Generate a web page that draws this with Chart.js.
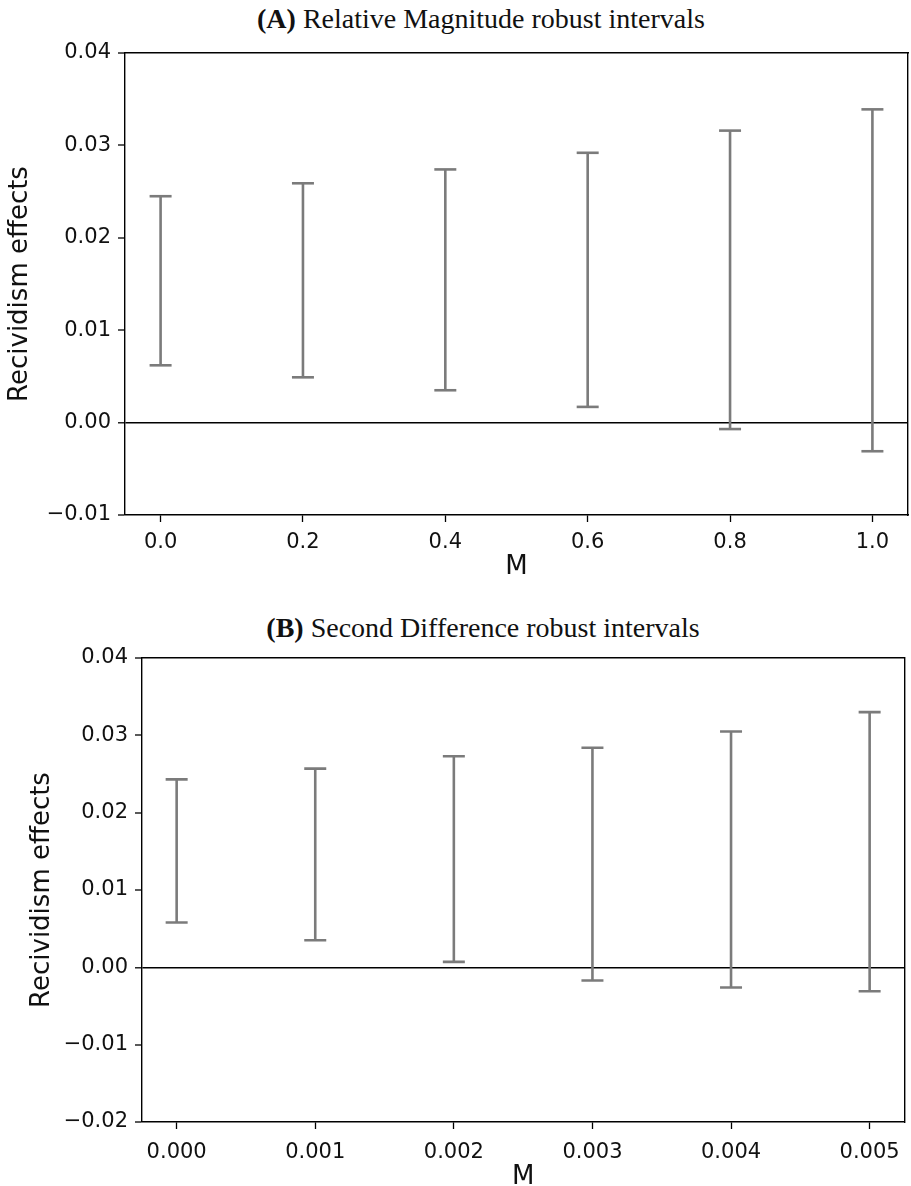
<!DOCTYPE html>
<html>
<head>
<meta charset="utf-8">
<script src="https://cdn.jsdelivr.net/npm/chart.js@4.4.1/dist/chart.umd.min.js"></script>
<style>
  html, body { margin: 0; padding: 0; background: #fff; }
  #wrap { position: relative; width: 911px; height: 1186px; overflow: hidden; background: #fff; }
  canvas { position: absolute; left: 0; }
  .title { position: absolute; font-family: "Liberation Serif", "Times New Roman", serif; font-size: 28px; color: #111; white-space: nowrap; transform: translate(-50%, -50%); }
</style>
</head>
<body>
<div id="wrap">
  <div class="title" id="tA" style="left:481px; top:19px;"><b>(A)</b> Relative Magnitude robust intervals</div>
  <canvas id="cA" width="911" height="592" style="top:0px;"></canvas>
  <div class="title" id="tB" style="left:483px; top:628px;"><b>(B)</b> Second Difference robust intervals</div>
  <canvas id="cB" width="911" height="600" style="top:600px;"></canvas>
</div>
<script>
// ---------- Panel A data ----------
const mValuesA = [0.0, 0.2, 0.4, 0.6, 0.8, 1.0];
const lowerA   = [0.0062, 0.0049, 0.0035, 0.0017, -0.0007, -0.0031];
const upperA   = [0.0245, 0.0259, 0.0274, 0.0292, 0.0316, 0.0339];
const yTicksA  = [-0.01, 0.00, 0.01, 0.02, 0.03, 0.04];

// ---------- Panel B data ----------
const mValuesB = [0.000, 0.001, 0.002, 0.003, 0.004, 0.005];
const lowerB   = [0.0058, 0.0035, 0.0007, -0.0017, -0.0026, -0.0031];
const upperB   = [0.0243, 0.0257, 0.0273, 0.0284, 0.0305, 0.0330];
const yTicksB  = [-0.02, -0.01, 0.00, 0.01, 0.02, 0.03, 0.04];

const xLabel = 'M';
const yLabel = 'Recividism effects';

function fmt(v, d) {
  const s = Math.abs(v).toFixed(d);
  return (v < -1e-12 ? '\u2212' : '') + s;
}

function intervalPoints(ms, lo, hi) {
  const pts = [];
  ms.forEach((m, i) => {
    pts.push({x: m, y: lo[i]});
    pts.push({x: m, y: hi[i]});
    pts.push({x: m, y: null});
  });
  return pts;
}

function makeChart(id, ms, lo, hi, yTicks, xDec, cfg) {
  const span = ms[ms.length - 1] - ms[0];
  const xMin = ms[0] - span * 0.05;
  const xMax = ms[ms.length - 1] + span * 0.05;
  const tickFont = {family: 'DejaVu Sans', size: 21};
  const titleFont = {family: 'DejaVu Sans', size: 26};
  return new Chart(document.getElementById(id), {
    type: 'scatter',
    data: {
      datasets: [{
        data: intervalPoints(ms, lo, hi),
        showLine: true,
        spanGaps: false,
        borderColor: '#7b7b7b',
        borderWidth: 2.6,
        pointStyle: 'line',
        pointRadius: 11,
        pointHoverRadius: 11,
        pointBorderColor: '#7b7b7b',
        pointBorderWidth: 2.6,
        pointBackgroundColor: '#7b7b7b'
      }]
    },
    options: {
      responsive: false,
      animation: false,
      events: [],
      layout: { padding: cfg.padding, autoPadding: false },
      plugins: { legend: { display: false }, tooltip: { enabled: false }, title: { display: false } },
      scales: {
        x: {
          type: 'linear', position: 'bottom', min: xMin, max: xMax,
          afterBuildTicks: s => { s.ticks = ms.map(v => ({value: v})); },
          afterFit: s => { s.height = cfg.xAxisH; },
          grid: { display: true, drawOnChartArea: false, tickColor: '#000', tickLength: 7, tickWidth: 1.3 },
          border: { display: true, color: '#000', width: 1.4 },
          ticks: { color: '#111', font: tickFont, padding: cfg.xTickPad, maxRotation: 0, autoSkip: false,
                   callback: v => fmt(v, xDec) },
          title: { display: true, text: xLabel, color: '#111', font: titleFont, padding: {top: 0, bottom: 0} }
        },
        y: {
          type: 'linear', position: 'left', min: yTicks[0], max: yTicks[yTicks.length - 1],
          afterBuildTicks: s => { s.ticks = yTicks.map(v => ({value: v})); },
          afterFit: s => { s.width = cfg.yAxisW; },
          grid: { display: true, drawOnChartArea: true, tickLength: 7, tickWidth: 1.3, tickColor: '#000',
                  color: c => (c.tick && Math.abs(c.tick.value) < 1e-12) ? '#000' : 'rgba(0,0,0,0)',
                  lineWidth: c => (c.tick && Math.abs(c.tick.value) < 1e-12) ? 1.6 : 0 },
          border: { display: true, color: '#000', width: 1.4 },
          ticks: { color: '#111', font: tickFont, padding: 7, callback: v => fmt(v, 2) },
          title: { display: true, text: yLabel, color: '#111', font: titleFont, padding: {top: cfg.yTitlePad, bottom: 0} }
        },
        x2: {
          type: 'linear', position: 'top', min: xMin, max: xMax,
          afterFit: s => { s.height = 0; },
          grid: { display: false }, ticks: { display: false },
          border: { display: true, color: '#000', width: 1.4 }
        },
        y2: {
          type: 'linear', position: 'right', min: yTicks[0], max: yTicks[yTicks.length - 1],
          afterFit: s => { s.width = 0; },
          grid: { display: false }, ticks: { display: false },
          border: { display: true, color: '#000', width: 1.4 }
        }
      }
    }
  });
}

makeChart('cA', mValuesA, lowerA, upperA, yTicksA, 1, {
  padding: {top: 53, right: 3, bottom: 9, left: 0},
  xAxisH: 68, yAxisW: 125, xTickPad: 8, yTitlePad: 5
});
makeChart('cB', mValuesB, lowerB, upperB, yTicksB, 3, {
  padding: {top: 58, right: 2, bottom: 7, left: 0},
  xAxisH: 71, yAxisW: 142, xTickPad: 11, yTitlePad: 27
});
</script>
</body>
</html>
